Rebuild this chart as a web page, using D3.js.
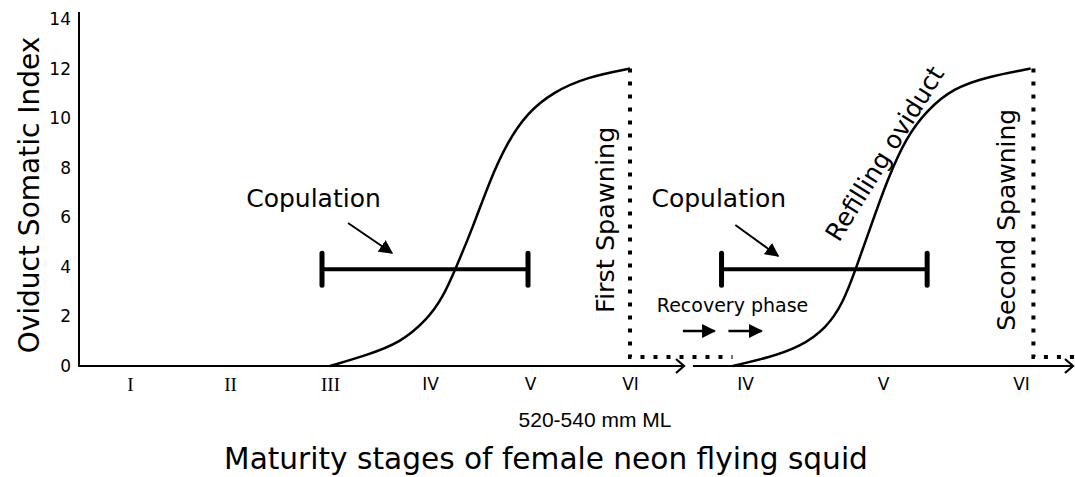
<!DOCTYPE html>
<html>
<head>
<meta charset="utf-8">
<script src="https://cdn.jsdelivr.net/npm/d3@7"></script>
<style>
  body { margin: 0; background: #fff; }
  svg { display: block; }
  text { font-family: "DejaVu Sans", sans-serif; fill: #000; }
</style>
</head>
<body>
<div class="Chart"></div>
<script>
// stages (x) and OSI values (y)
const stageNames = ["I", "II", "III", "IV", "V", "VI"];
const stagesFirst = [1, 2, 3, 4, 5, 6];
const stagesSecond = [4, 5, 6];
const osiTicks = [0, 2, 4, 6, 8, 10, 12, 14];

// first oviduct filling curve
const curve1Stage = [3.0, 3.37, 3.7, 3.97, 4.13, 4.25, 4.43, 4.6, 4.77, 4.97, 5.23, 5.57, 6.0];
const curve1Osi = [0, 0.44, 0.93, 1.86, 2.78, 3.87, 5.61, 7.5, 9.0, 10.2, 11.05, 11.66, 12];

// refilling curve after first spawning
const curve2Stage = [3.91, 4.16, 4.4, 4.59, 4.71, 4.8, 4.91, 5.03, 5.17, 5.32, 5.51, 5.75, 6.07];
const curve2Osi = [0, 0.32, 0.77, 1.53, 2.54, 3.87, 5.61, 7.5, 9.24, 10.33, 11.21, 11.66, 12];

// copulation periods [from, to] and their OSI level
const copulation1 = [2.92, 4.98];
const copulation2 = [3.83, 5.32];
const copulationOsi = 3.9;

// spawning events: stage of spawning, OSI at top
const spawnStage = [6, 6.09];
const spawnOsi = 12;

const w = 1075;
const h = 477;

const y = d3.scaleLinear().domain([0, 14]).range([366, 19]);
const x1 = d3.scaleLinear().domain([1, 6]).range([130, 630]);
const x2 = d3.scaleLinear().domain([4, 6]).range([745, 1021]);
const axisY = y(0);

const svg = d3
  .select(".Chart")
  .append("svg")
  .attr("width", w)
  .attr("height", h)
  .style("background-color", "#fff");

// y axis
svg
  .append("g")
  .attr("transform", "translate(79,0)")
  .call(d3.axisLeft(y).tickValues(osiTicks).tickSize(0).tickPadding(8))
  .call(g => g.select(".domain").remove())
  .selectAll("text")
  .style("font-family", "DejaVu Sans")
  .style("font-size", "17px")
  .attr("fill", "#000");

svg
  .append("line")
  .attr("x1", 79)
  .attr("x2", 79)
  .attr("y1", 12)
  .attr("y2", axisY + 1)
  .attr("stroke", "#000")
  .attr("stroke-width", 2);

// x axes with arrow heads
const arrowLine = (xa, xb) => {
  svg
    .append("line")
    .attr("x1", xa)
    .attr("x2", xb)
    .attr("y1", axisY)
    .attr("y2", axisY)
    .attr("stroke", "#000")
    .attr("stroke-width", 2);
  svg
    .append("path")
    .attr("d", `M${xb - 8},${axisY - 7} L${xb},${axisY} L${xb - 8},${axisY + 7}`)
    .attr("fill", "none")
    .attr("stroke", "#000")
    .attr("stroke-width", 2.2);
};
arrowLine(78, 684);
arrowLine(693, 1073);

const romanFont = d => (d <= 3 ? "Liberation Serif" : "DejaVu Sans");

svg
  .append("g")
  .attr("transform", "translate(0," + axisY + ")")
  .call(d3.axisBottom(x1).tickValues(stagesFirst).tickSize(0).tickPadding(12)
    .tickFormat(d => stageNames[d - 1]))
  .call(g => g.select(".domain").remove())
  .selectAll("text")
  .style("font-family", romanFont)
  .style("font-size", d => (d <= 3 ? "19px" : "17px"))
  .attr("fill", "#000");

svg
  .append("g")
  .attr("transform", "translate(0," + axisY + ")")
  .call(d3.axisBottom(x2).tickValues(stagesSecond).tickSize(0).tickPadding(12)
    .tickFormat(d => stageNames[d - 1]))
  .call(g => g.select(".domain").remove())
  .selectAll("text")
  .style("font-family", "DejaVu Sans")
  .style("font-size", "17px")
  .attr("fill", "#000");

// curves
const curveLine = xs => d3.line()
  .x(d => xs(d[0]))
  .y(d => y(d[1]))
  .curve(d3.curveBasis);

svg
  .append("path")
  .attr("d", curveLine(x1)(d3.zip(curve1Stage, curve1Osi)))
  .attr("fill", "none")
  .attr("stroke", "#000")
  .attr("stroke-width", 2.5);

svg
  .append("path")
  .attr("d", curveLine(x2)(d3.zip(curve2Stage, curve2Osi)))
  .attr("fill", "none")
  .attr("stroke", "#000")
  .attr("stroke-width", 2.5);

// copulation bars
const bar = (xs, range) => {
  svg
    .append("line")
    .attr("x1", xs(range[0]))
    .attr("x2", xs(range[1]))
    .attr("y1", y(copulationOsi))
    .attr("y2", y(copulationOsi))
    .attr("stroke", "#000")
    .attr("stroke-width", 4);
  range.forEach(v => {
    svg
      .append("line")
      .attr("x1", xs(v))
      .attr("x2", xs(v))
      .attr("y1", y(copulationOsi) - 16)
      .attr("y2", y(copulationOsi) + 16)
      .attr("stroke", "#000")
      .attr("stroke-width", 5)
      .attr("stroke-linecap", "round");
  });
};
bar(x1, copulation1);
bar(x2, copulation2);

// filled arrow head
svg
  .append("defs")
  .append("marker")
  .attr("id", "head")
  .attr("viewBox", "0 -5 10 10")
  .attr("refX", 9)
  .attr("refY", 0)
  .attr("markerWidth", 14)
  .attr("markerHeight", 14)
  .attr("markerUnits", "userSpaceOnUse")
  .attr("orient", "auto")
  .append("path")
  .attr("d", "M0,-5L10,0L0,5Z")
  .attr("fill", "#000");

const arrow = (xa, ya, xb, yb, sw) => {
  svg
    .append("line")
    .attr("x1", xa)
    .attr("y1", ya)
    .attr("x2", xb)
    .attr("y2", yb)
    .attr("stroke", "#000")
    .attr("stroke-width", sw)
    .attr("marker-end", "url(#head)");
};
arrow(x1(3.18), y(5.77), x1(3.62), y(4.56), 2);
arrow(x2(3.93), y(5.69), x2(4.24), y(4.44), 2);
arrow(x2(3.55), y(1.41), x2(3.78), y(1.41), 2.5);
arrow(x2(3.88), y(1.41), x2(4.12), y(1.41), 2.5);

// spawning dotted lines
const dotted = (x, yTop, xEnd) => {
  const yLow = y(0.36);
  svg
    .append("path")
    .attr("d", `M${x},${yTop} L${x},${yLow} L${xEnd},${yLow}`)
    .attr("fill", "none")
    .attr("stroke", "#000")
    .attr("stroke-width", 4)
    .attr("stroke-dasharray", "4,9");
};
dotted(x1(spawnStage[0]), y(spawnOsi), x2(3.91));
dotted(x2(spawnStage[1]), y(spawnOsi), 1078);

// texts
const label = (txt, x, yy, size, opts = {}) => {
  const t = svg
    .append("text")
    .attr("x", x)
    .attr("y", yy)
    .attr("text-anchor", opts.anchor || "middle")
    .style("font-size", size + "px")
    .text(txt);
  if (opts.rotate) t.attr("transform", `rotate(${opts.rotate},${x},${yy})`);
  if (opts.family) t.style("font-family", opts.family);
  return t;
};

label("Copulation", x1(2.835), y(6.4), 25);
label("Copulation", x2(3.81), y(6.4), 25);
label("First Spawning", 614, y(5.9), 25.5, { rotate: -90 });
label("Second Spawning", 1015, y(5.9), 25, { rotate: -90 });
label("Recovery phase", x2(3.91), y(2.18), 19);
label("Refilling oviduct", 892, 158, 25, { rotate: -58 });
label("Oviduct Somatic Index", 39, y(6.9), 28, { rotate: -90 });
label("520-540 mm ML", 595, 427, 21, { family: "Liberation Sans" });
label("Maturity stages of female neon flying squid", 546, 469, 29.6);
</script>
</body>
</html>
